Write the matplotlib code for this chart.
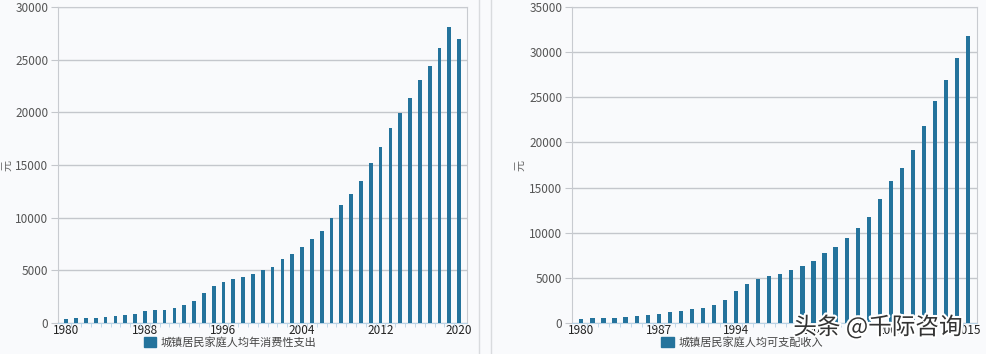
import matplotlib.pyplot as plt
import matplotlib.patheffects as pe
from matplotlib.patches import Patch
from matplotlib.lines import Line2D

plt.rcParams['font.family'] = ['Noto Sans CJK SC', 'DejaVu Sans']

# 城镇居民家庭人均年消费性支出 (元)
years_spend = list(range(1980, 2021))
spend = [412, 456, 471, 506, 559, 673, 799, 884, 1104, 1211,
         1279, 1454, 1672, 2111, 2851, 3538, 3919, 4186, 4332, 4616,
         4998, 5309, 6030, 6511, 7182, 7943, 8697, 9997, 11243, 12265,
         13471, 15161, 16674, 18488, 19968, 21392, 23079, 24445, 26112, 28063,
         27007]
spend_ticks = [1980, 1988, 1996, 2004, 2012, 2020]

# 城镇居民家庭人均可支配收入 (元)
years_income = list(range(1980, 2016))
income = [478, 500, 535, 565, 652, 739, 900, 1002, 1180, 1374,
          1510, 1701, 2027, 2577, 3496, 4283, 4839, 5160, 5425, 5854,
          6280, 6860, 7703, 8472, 9422, 10493, 11759, 13786, 15781, 17175,
          19109, 21810, 24565, 26955, 29381, 31790]
income_ticks = [1980, 1987, 1994, 2001, 2008, 2015]

bar_color = '#24739c'
bg = '#f9fafc'
grid_color = '#c4c7cc'

W, H = 986, 354
fig = plt.figure(figsize=(W / 100, H / 100), dpi=100)
fig.patch.set_facecolor(bg)


def panel(rect, years, values, ticks, ymax, ystep, label, ylab_x):
    x0, y_top, x1, y_bot = rect
    ax = fig.add_axes([x0 / W, 1 - y_bot / H, (x1 - x0) / W, (y_bot - y_top) / H])
    ax.set_facecolor(bg)
    ax.bar(years, values, width=0.38, color=bar_color, zorder=3)
    ax.set_xlim(years[0] - 0.85, years[-1] + 0.8)
    ax.set_ylim(0, ymax)
    ax.set_yticks(range(0, ymax + 1, ystep))
    ax.set_xticks(ticks)
    ax.set_xticks([y + 0.5 for y in years[:-1]], minor=True)
    ax.tick_params(axis='x', which='major', length=0, labelsize=8.5,
                   labelcolor='#222222', pad=1)
    ax.tick_params(axis='x', which='minor', length=3, color='#b9d3e6')
    ax.tick_params(axis='y', length=5, color='#c4c7cc', labelsize=8.5,
                   labelcolor='#555555', pad=2)
    ax.grid(axis='y', color=grid_color, linewidth=1, zorder=0)
    for side in ['top', 'right', 'left']:
        ax.spines[side].set_color('#c8cbd0')
    ax.spines['bottom'].set_color('#b9d3e6')
    fig.text(ylab_x / W, 1 - 165 / H, '元', rotation=90, fontsize=8,
             color='#666666', ha='center', va='center')
    ax.legend(handles=[Patch(color=bar_color, label=label)],
              loc='upper center', bbox_to_anchor=(0.42, -0.03),
              frameon=False, fontsize=8, handlelength=1.1, handleheight=0.9,
              handletextpad=0.4, labelcolor='#444444', borderaxespad=0)
    return ax


panel((58, 7, 467, 323), years_spend, spend, spend_ticks, 30000, 5000,
      '城镇居民家庭人均年消费性支出', 7)
panel((572, 7, 977, 323), years_income, income, income_ticks, 35000, 5000,
      '城镇居民家庭人均可支配收入', 520)

# separator lines between the two panels
for xs in (479, 491):
    fig.add_artist(Line2D([xs / W, xs / W], [0, 1], color='#d9dbde', linewidth=1))

# watermark
fig.text(878 / W, 1 - 327 / H, '头条 @千际咨询', fontsize=17, color='#333333',
         ha='center', va='center',
         path_effects=[pe.withStroke(linewidth=3, foreground='white')])

fig.savefig('out.png', dpi=100, facecolor=fig.get_facecolor())
